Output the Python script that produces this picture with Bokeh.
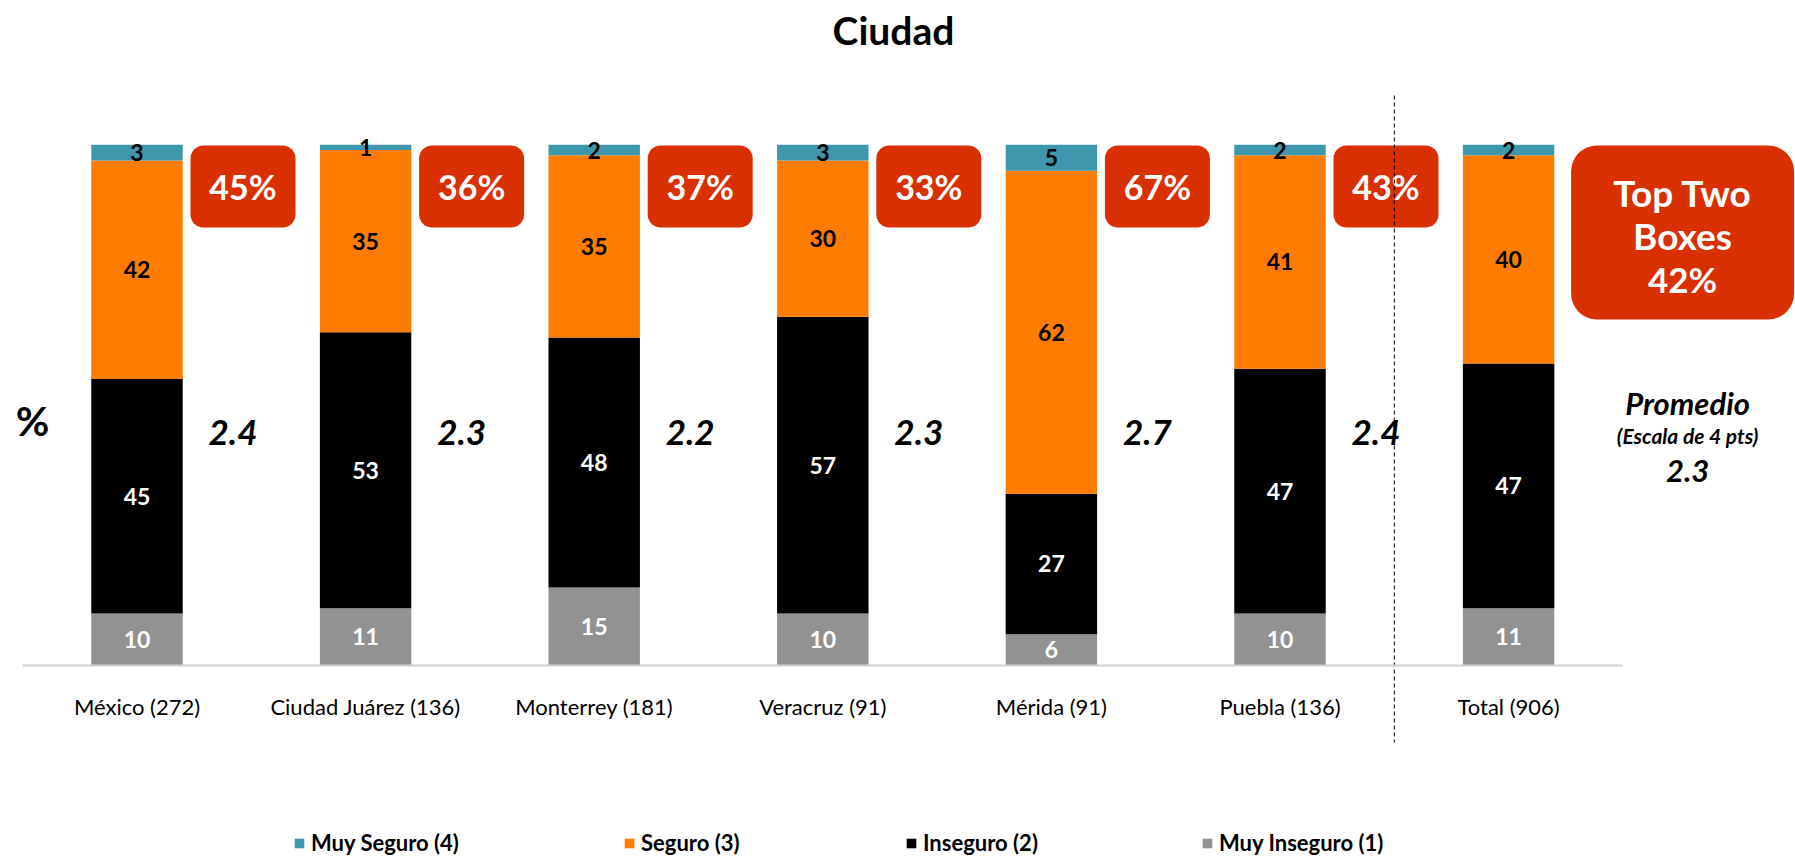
from bokeh.plotting import figure
from bokeh.models import (ColumnDataSource, Range1d, LinearAxis, FixedTicker,
                          Legend, LegendItem, Label)
from bokeh.core.properties import value
from bokeh.embed import file_html
from bokeh.resources import INLINE

# ---------------- data ----------------
cities = ["México (272)", "Ciudad Juárez (136)", "Monterrey (181)", "Veracruz (91)",
          "Mérida (91)", "Puebla (136)", "Total (906)"]
muy_inseguro = [10, 11, 15, 10, 6, 10, 11]
inseguro = [45, 53, 48, 57, 27, 47, 47]
seguro = [42, 35, 35, 30, 62, 41, 40]
muy_seguro = [3, 1, 2, 3, 5, 2, 2]
top_two = [45, 36, 37, 33, 67, 43, 42]
promedio = [2.4, 2.3, 2.2, 2.3, 2.7, 2.4, 2.3]
series_names = ["Muy Inseguro (1)", "Inseguro (2)", "Seguro (3)", "Muy Seguro (4)"]

# ---------------- styles / layout ----------------
FN = "Lato"
FONT = value(FN)
C_TEAL, C_ORANGE, C_BLACK, C_GRAY = "#3F97AD", "#FF7C00", "#000000", "#929292"
C_RED = "#D83000"
W, H = 1795, 856
ORG = 0             # page offset of the canvas
PX_CAT = 228.6      # pixels per category
PX_PCT = 5.207      # pixels per percent
X0 = 136.5          # page x of first category centre
BASE = 665          # page y of the baseline


def dx(px):
    return (px - X0) / PX_CAT


def dy(py):
    return (BASE - py) / PX_PCT


p = figure(width=W, height=H, x_range=Range1d(dx(ORG), dx(ORG + W)),
           y_range=Range1d(dy(ORG + H), dy(ORG)), output_backend="svg",
           toolbar_location=None, x_axis_type=None, y_axis_type=None,
           min_border=0, outline_line_color=None)

n = len(cities)
xs = list(range(n))
src = ColumnDataSource(dict(x=xs, mi=muy_inseguro, ins=inseguro, seg=seguro, ms=muy_seguro))
keys = ["mi", "ins", "seg", "ms"]
colors = [C_GRAY, C_BLACK, C_ORANGE, C_TEAL]
rends = p.vbar_stack(keys, x="x", width=0.4, fill_color=colors, line_color=None, source=src)

# segment labels
series = [muy_inseguro, inseguro, seguro, muy_seguro]
lab_colors = ["white", "white", "black", "black"]
bottom = [0] * n
for vals, tc in zip(series, lab_colors):
    mids = [b + v / 2 for b, v in zip(bottom, vals)]
    p.text(x=xs, y=mids, text=[str(v) for v in vals], text_color=tc,
           text_font=FONT, text_font_style="bold", text_font_size="23px",
           text_align="center", text_baseline="middle")
    bottom = [b + v for b, v in zip(bottom, vals)]

# x axis at baseline
ax = LinearAxis(fixed_location=0, ticker=FixedTicker(ticks=xs),
                major_label_overrides={i: c for i, c in enumerate(cities)},
                bounds=(-0.5, n - 0.5), axis_line_color="#D0D0D0", axis_line_width=2,
                major_tick_line_color=None, minor_tick_line_color=None,
                major_label_text_font=FN, major_label_text_font_size="22px",
                major_label_text_color="black", major_label_standoff=21)
p.add_layout(ax, "below")

# top-two boxes next to each city
BOX_OFF, BOX_HW = dx(X0 + 106), 52.5 / PX_CAT
bx = [i + BOX_OFF for i in xs[:-1]]
p.quad(left=[x - BOX_HW for x in bx], right=[x + BOX_HW for x in bx],
       top=dy(145), bottom=dy(227), fill_color=C_RED, line_color=None, border_radius=13)
p.text(x=bx, y=dy(186), text=[f"{v}%" for v in top_two[:-1]], text_color="white",
       text_font=FONT, text_font_style="bold", text_font_size="34px",
       text_align="center", text_baseline="middle")

# averages beside each city
p.text(x=[i + dx(X0 + 96) for i in xs[:-1]], y=dy(432), text=[f"{v:.1f}" for v in promedio[:-1]],
       text_color="black", text_font=FONT, text_font_style="bold italic",
       text_font_size="35px", text_align="center", text_baseline="middle")

# total box
tx = xs[-1] + dx(X0 + 174)
thw = 111.5 / PX_CAT
p.quad(left=[tx - thw], right=[tx + thw], top=dy(145), bottom=dy(319),
       fill_color=C_RED, line_color=None, border_radius=26)
p.text(x=[tx] * 3, y=[dy(192), dy(235), dy(278)], text=["Top Two", "Boxes", f"{top_two[-1]}%"],
       text_color="white", text_font=FONT, text_font_style="bold",
       text_font_size=["37px", "37px", "35px"],
       text_align="center", text_baseline="middle")
px_ = xs[-1] + dx(X0 + 179)
p.text(x=[px_] * 3, y=[dy(402), dy(435), dy(470)],
       text=["Promedio", "(Escala de 4 pts)", f"{promedio[-1]:.1f}"],
       text_color="black", text_font=FONT, text_font_style="bold italic",
       text_font_size=["31px", "21px", "31px"], text_align="center", text_baseline="middle")

# separator
p.segment(x0=[n - 1.5], x1=[n - 1.5], y0=[dy(95)], y1=[dy(742)], line_color="black",
          line_width=1, line_dash="4 3")

# title and unit
p.add_layout(Label(x=dx(893), y=dy(29), text="Ciudad", text_font=FN, text_font_style="bold",
                   text_color="black", text_font_size="39px", text_align="center",
                   text_baseline="middle"))
p.add_layout(Label(x=dx(32), y=dy(420), text="%", text_font=FN, text_font_style="bold",
                   text_color="black", text_font_size="41px", text_align="center",
                   text_baseline="middle"))

# legend: one item each, placed individually
leg_x = [293, 623, 905, 1201]
order = [3, 2, 1, 0]
for lx, k in zip(leg_x, order):
    lg = Legend(items=[LegendItem(label=series_names[k], renderers=[rends[k]])],
                location=(lx - ORG, ORG + H - 845 - 11), orientation="horizontal",
                padding=0, margin=0,
                border_line_color=None, background_fill_alpha=0,
                glyph_width=12, glyph_height=12, label_height=22, label_standoff=6,
                label_text_font=FN, label_text_font_style="bold",
                label_text_font_size="22px", label_text_color="black")
    p.add_layout(lg, "center")

open("out.html", "w").write(file_html(p, INLINE))
